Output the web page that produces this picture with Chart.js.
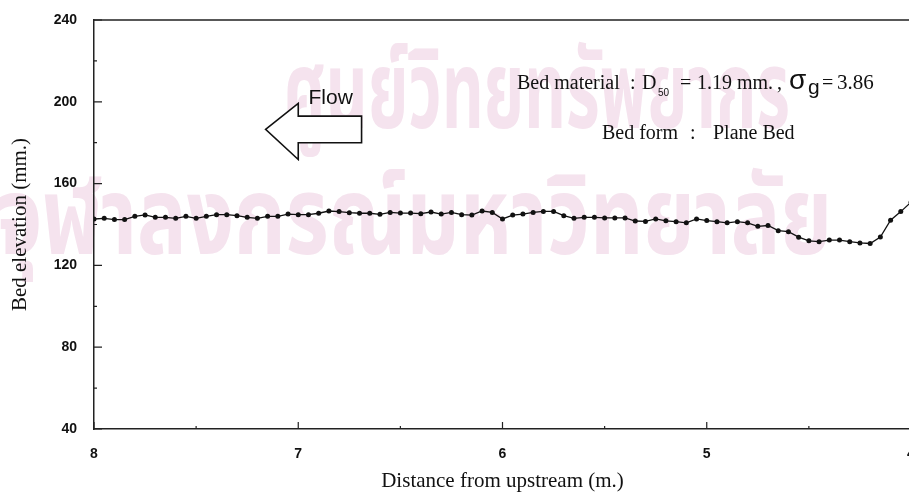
<!DOCTYPE html>
<html>
<head>
<meta charset="utf-8">
<script src="https://cdn.jsdelivr.net/npm/chart.js@4.4.1/dist/chart.umd.min.js"></script>
<style>
  html, body { margin: 0; padding: 0; background: #fff; overflow: hidden; }
  #wrap { position: relative; width: 909px; height: 494px; overflow: hidden; background: #fff; }
  #bedChart { position: absolute; left: 0; top: 0; }
</style>
</head>
<body>
<div id="wrap"><canvas id="bedChart" width="940" height="494"></canvas></div>
<script>
// measured bed profile, plane bed run
const distance = [
  8.00, 7.95, 7.90, 7.85, 7.80, 7.75, 7.70, 7.65, 7.60, 7.55,
  7.50, 7.45, 7.40, 7.35, 7.30, 7.25, 7.20, 7.15, 7.10, 7.05,
  7.00, 6.95, 6.90, 6.85, 6.80, 6.75, 6.70, 6.65, 6.60, 6.55,
  6.50, 6.45, 6.40, 6.35, 6.30, 6.25, 6.20, 6.15, 6.10, 6.05,
  6.00, 5.95, 5.90, 5.85, 5.80, 5.75, 5.70, 5.65, 5.60, 5.55,
  5.50, 5.45, 5.40, 5.35, 5.30, 5.25, 5.20, 5.15, 5.10, 5.05,
  5.00, 4.95, 4.90, 4.85, 4.80, 4.75, 4.70, 4.65, 4.60, 4.55,
  4.50, 4.45, 4.40, 4.35, 4.30, 4.25, 4.20, 4.15, 4.10, 4.05,
  4.00
];
const elevation = [
  142.7, 143.0, 142.4, 142.4, 144.0, 144.7, 143.5, 143.5, 143.0, 144.0,
  143.0, 144.0, 144.8, 144.8, 144.3, 143.5, 143.0, 144.0, 144.0, 145.1,
  144.8, 144.8, 145.5, 146.6, 146.3, 145.8, 145.5, 145.5, 145.0, 145.9,
  145.6, 145.6, 145.3, 146.1, 145.1, 145.9, 144.8, 144.6, 146.6, 145.9,
  142.7, 144.6, 145.1, 145.9, 146.4, 146.4, 144.3, 143.0, 143.5, 143.5,
  143.2, 143.2, 143.2, 141.7, 141.5, 142.7, 141.8, 141.4, 140.8, 142.7,
  141.9, 141.4, 140.8, 141.4, 140.8, 139.1, 139.5, 137.0, 136.5, 133.8,
  132.0, 131.6, 132.4, 132.4, 131.6, 131.0, 130.7, 133.9, 142.1, 146.3,
  150.9
];

const xTicks = [8, 7, 6, 5, 4];
const xMinor = [7.5, 6.5, 5.5, 4.5];
const yTicks = [40, 80, 120, 160, 200, 240];
const yMinor = [60, 100, 140, 180, 220];

const serif = '"Liberation Serif", "Times New Roman", serif';
const sans = '"Liberation Sans", Arial, sans-serif';

// faint background stamp
const watermark = {
  id: 'watermark',
  beforeDraw(chart) {
    const ctx = chart.ctx;
    ctx.save();
    ctx.fillStyle = '#f5e3ee';
    ctx.textBaseline = 'alphabetic';
    const lines = [
      { text: 'ศูนย์วิทยทรัพยากร', x: 283, y: 128, w: 507, size: 108 },
      { text: 'จุฬาลงกรณ์มหาวิทยาลัย', x: -4, y: 254, w: 836, size: 108 }
    ];
    lines.forEach(l => {
      ctx.font = 'bold ' + l.size + 'px "Noto Sans Thai", "Loma", "Garuda", "Norasi", sans-serif';
      const m = ctx.measureText(l.text).width;
      ctx.save();
      ctx.translate(l.x, l.y);
      ctx.scale(l.w / m, 1);
      ctx.fillText(l.text, 0, 0);
      ctx.restore();
    });
    ctx.restore();
  }
};

// box top edge, inward tick marks, flow arrow and notes
const decorations = {
  id: 'decorations',
  afterDatasetsDraw(chart) {
    const ctx = chart.ctx;
    const { left, right, top, bottom } = chart.chartArea;
    const xs = chart.scales.x, ys = chart.scales.y;
    const px = v => xs.getPixelForValue(v);
    const py = v => ys.getPixelForValue(v);

    ctx.save();
    ctx.strokeStyle = '#222';
    ctx.lineWidth = 1.5;
    ctx.beginPath();
    ctx.moveTo(left, top);
    ctx.lineTo(right, top);
    ctx.lineTo(right, bottom);
    ctx.stroke();

    ctx.lineWidth = 1.2;
    ctx.beginPath();
    yTicks.forEach(v => { ctx.moveTo(left, py(v)); ctx.lineTo(left + 8, py(v)); });
    yMinor.forEach(v => { ctx.moveTo(left, py(v)); ctx.lineTo(left + 3, py(v)); });
    xTicks.forEach(v => { ctx.moveTo(px(v), bottom); ctx.lineTo(px(v), bottom - 7); });
    xMinor.forEach(v => { ctx.moveTo(px(v), bottom); ctx.lineTo(px(v), bottom - 3); });
    ctx.stroke();

    // flow arrow, pointing downstream (to the left)
    ctx.lineWidth = 1.6;
    ctx.strokeStyle = '#111';
    ctx.fillStyle = '#fff';
    ctx.beginPath();
    ctx.moveTo(px(7.16), py(186.5));
    ctx.lineTo(px(7.0), py(199.2));
    ctx.lineTo(px(7.0), py(193.0));
    ctx.lineTo(px(6.69), py(193.0));
    ctx.lineTo(px(6.69), py(180.0));
    ctx.lineTo(px(7.0), py(180.0));
    ctx.lineTo(px(7.0), py(171.8));
    ctx.closePath();
    ctx.fill();
    ctx.stroke();

    ctx.fillStyle = '#111';
    ctx.textBaseline = 'alphabetic';
    ctx.textAlign = 'left';
    ctx.font = '21px ' + sans;
    ctx.fillText('Flow', px(6.95), py(198.8));

    // bed material line
    const x0 = px(5.929), y0 = py(206.4);
    const parts = [
      { t: 'Bed material', dx: 0, dy: 0, f: '20px ' + serif },
      { t: ':', dx: 113, dy: 0, f: '20px ' + serif },
      { t: 'D', dx: 125, dy: 0, f: '20px ' + serif },
      { t: '50', dx: 141, dy: 7, f: '10px ' + sans },
      { t: '=', dx: 163, dy: 0, f: '20px ' + serif },
      { t: '1.19 mm.', dx: 180, dy: 0, f: '20px ' + serif },
      { t: ',', dx: 260, dy: 0, f: '20px ' + serif },
      { t: 'σ', dx: 272, dy: 0, f: '28px ' + sans },
      { t: 'g', dx: 291, dy: 5, f: '21px ' + sans },
      { t: '=', dx: 305, dy: 0, f: '20px ' + serif },
      { t: '3.86', dx: 320, dy: 0, f: '21px ' + serif }
    ];
    parts.forEach(p => {
      ctx.font = p.f;
      ctx.fillText(p.t, x0 + p.dx, y0 + p.dy);
    });

    ctx.font = '20px ' + serif;
    const x1 = px(5.513), y1 = py(181.9);
    ctx.fillText('Bed form', x1, y1);
    ctx.fillText(':', x1 + 88, y1);
    ctx.fillText('Plane Bed', x1 + 111, y1);
    ctx.restore();
  }
};

const ctx = document.getElementById('bedChart').getContext('2d');
new Chart(ctx, {
  type: 'line',
  data: {
    datasets: [{
      data: distance.map((d, i) => ({ x: d, y: elevation[i] })),
      borderColor: '#111',
      borderWidth: 1.3,
      backgroundColor: '#111',
      pointRadius: 2.5,
      pointBorderWidth: 0,
      pointBackgroundColor: '#111',
      tension: 0,
      fill: false
    }]
  },
  options: {
    responsive: false,
    animation: false,
    devicePixelRatio: 1,
    layout: { padding: { top: 20, right: 29, bottom: 0, left: 0 } },
    plugins: {
      legend: { display: false },
      tooltip: { enabled: false }
    },
    scales: {
      x: {
        type: 'linear',
        reverse: true,
        min: 4,
        max: 8,
        afterBuildTicks: s => { s.ticks = xTicks.map(v => ({ value: v })); },
        afterFit: s => { s.height = 65; },
        grid: { display: false, drawTicks: false },
        border: { display: true, color: '#222', width: 1.5 },
        ticks: {
          padding: 17,
          color: '#111',
          font: { family: sans, size: 14, weight: 'bold' },
          maxRotation: 0,
          callback: v => String(v)
        },
        title: {
          display: true,
          text: 'Distance from upstream (m.)',
          color: '#111',
          font: { family: serif, size: 21 },
          padding: { top: 0, bottom: 0 }
        }
      },
      y: {
        type: 'linear',
        min: 40,
        max: 240,
        afterBuildTicks: s => { s.ticks = yTicks.map(v => ({ value: v })); },
        // label padding would otherwise push the plot top down
        afterFit: s => { s.width = 94; s.paddingTop = 0; s.paddingBottom = 0; },
        grid: { display: false, drawTicks: false },
        border: { display: true, color: '#222', width: 1.5 },
        ticks: {
          padding: 17,
          color: '#111',
          font: { family: sans, size: 14, weight: 'bold' }
        },
        title: {
          display: true,
          text: 'Bed elevation (mm.)',
          color: '#111',
          font: { family: serif, size: 21 },
          padding: { top: 8, bottom: 0 }
        }
      }
    }
  },
  plugins: [watermark, decorations]
});
</script>
</body>
</html>
